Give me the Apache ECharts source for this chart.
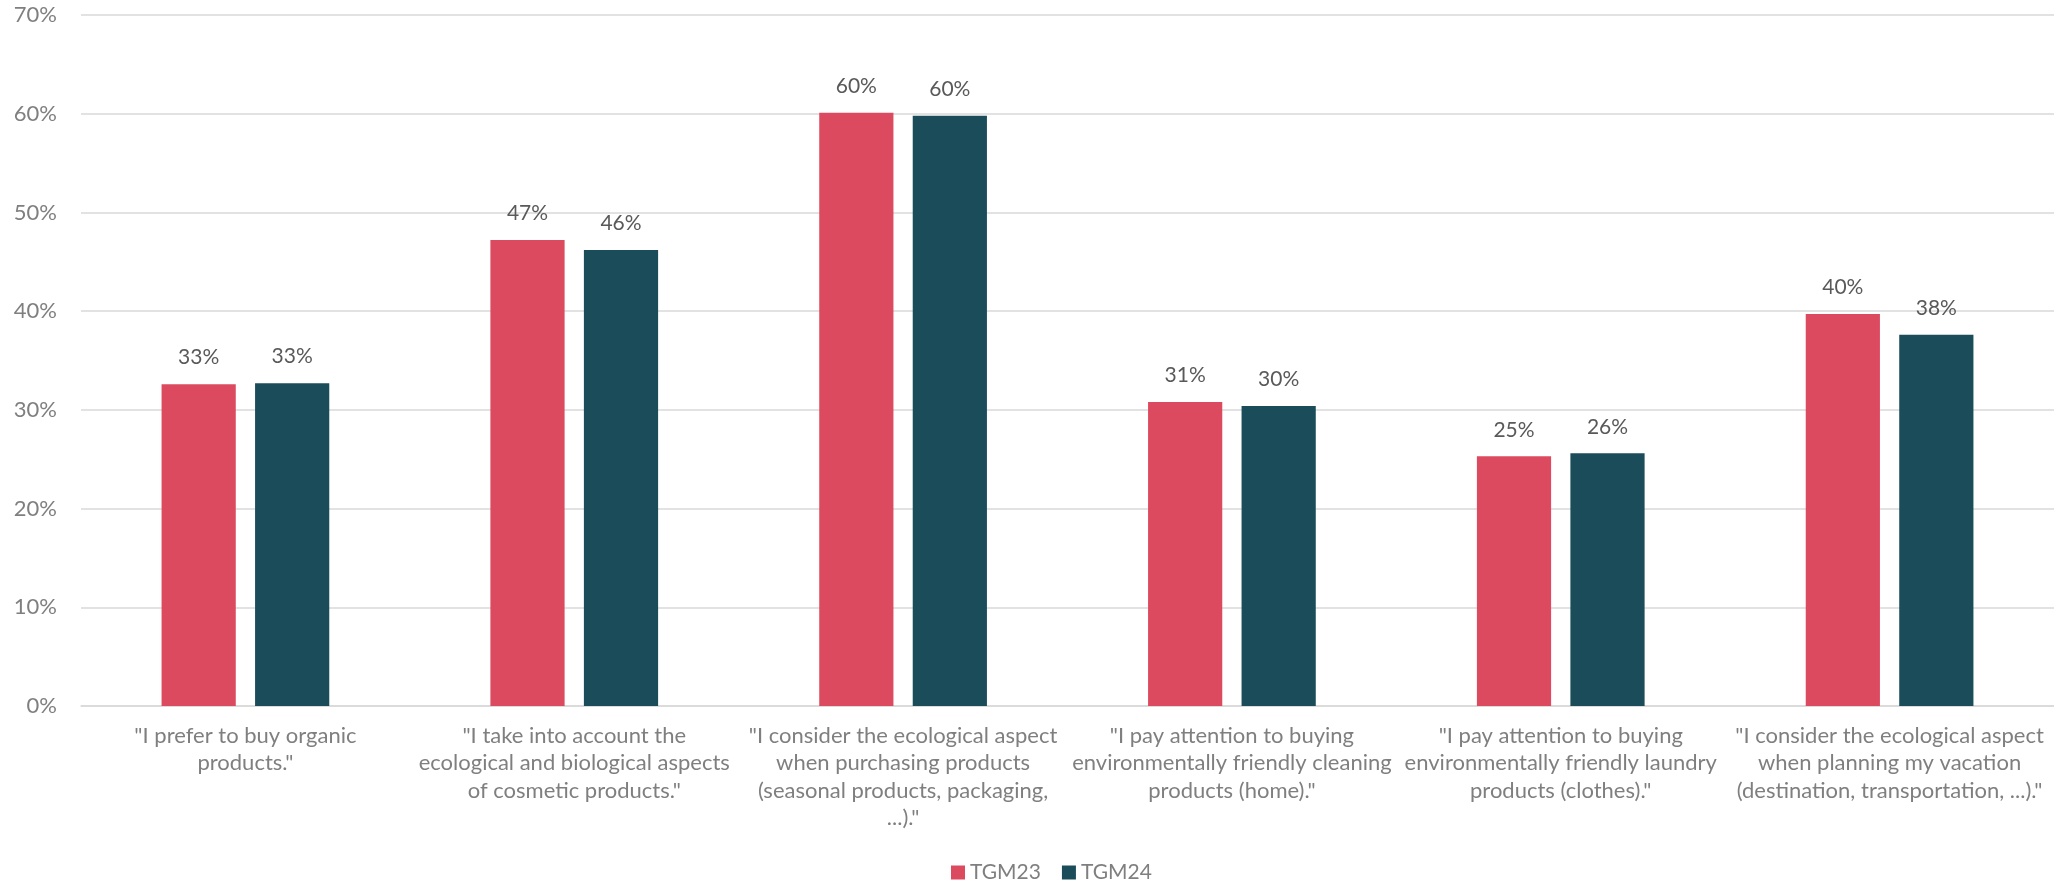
<!DOCTYPE html>
<html>
<head>
<meta charset="utf-8">
<script src="https://cdn.jsdelivr.net/npm/echarts@6/dist/echarts.min.js"></script>
<style>
  html, body { margin: 0; padding: 0; background: #fff; }
  #chart { width: 2054px; height: 889px; }
</style>
</head>
<body>
<div id="chart"></div>
<script>
let categories = [
  '"I prefer to buy organic\nproducts."',
  '"I take into account the\necological and biological aspects\nof cosmetic products."',
  '"I consider the ecological aspect\nwhen purchasing products\n(seasonal products, packaging,\n...)."',
  '"I pay attention to buying\nenvironmentally friendly cleaning\nproducts (home)."',
  '"I pay attention to buying\nenvironmentally friendly laundry\nproducts (clothes)."',
  '"I consider the ecological aspect\nwhen planning my vacation\n(destination, transportation, ...)."'
];

let tgm23 = [32.6, 47.2, 60.1, 30.8, 25.3, 39.7];
let tgm24 = [32.7, 46.2, 59.8, 30.4, 25.6, 37.6];

let fontFamily = 'Lato, "Open Sans", sans-serif';

function makeSeries(name, data, color) {
  return {
    name: name,
    type: 'bar',
    data: data,
    barGap: '26%',
    barCategoryGap: '49%',
    itemStyle: { color: color },
    label: {
      show: true,
      position: 'top',
      distance: 16,
      color: '#595959',
      fontSize: 21,
      fontFamily: fontFamily,
      formatter: p => Math.round(p.value) + '%'
    }
  };
}

let chart = echarts.init(document.getElementById('chart'));

let option = {
  animation: false,
  textStyle: { fontFamily: fontFamily },
  grid: {
    left: 81,
    right: 0,
    top: 15,
    bottom: 183
  },
  legend: {
    data: ['TGM23', 'TGM24'],
    bottom: 1,
    left: 946,
    itemWidth: 14,
    itemHeight: 14,
    itemGap: 21,
    icon: 'rect',
    textStyle: { color: '#7f7f7f', fontSize: 21, fontFamily: fontFamily }
  },
  xAxis: {
    type: 'category',
    data: categories,
    axisLine: { lineStyle: { color: '#d9d9d9', width: 1.5 } },
    axisTick: { show: false },
    axisLabel: {
      interval: 0,
      color: '#7f7f7f',
      fontSize: 22,
      lineHeight: 27.5,
      margin: 16,
      fontFamily: fontFamily
    }
  },
  yAxis: {
    type: 'value',
    min: 0,
    max: 70,
    interval: 10,
    axisLine: { show: false },
    axisTick: { show: false },
    splitLine: { lineStyle: { color: '#d9d9d9', width: 1.5 } },
    axisLabel: {
      color: '#7f7f7f',
      fontSize: 22,
      margin: 24,
      fontFamily: fontFamily,
      formatter: '{value}%'
    }
  },
  series: [
    makeSeries('TGM23', tgm23, '#dc4a60'),
    makeSeries('TGM24', tgm24, '#1b4c59')
  ]
};

chart.setOption(option);
</script>
</body>
</html>
